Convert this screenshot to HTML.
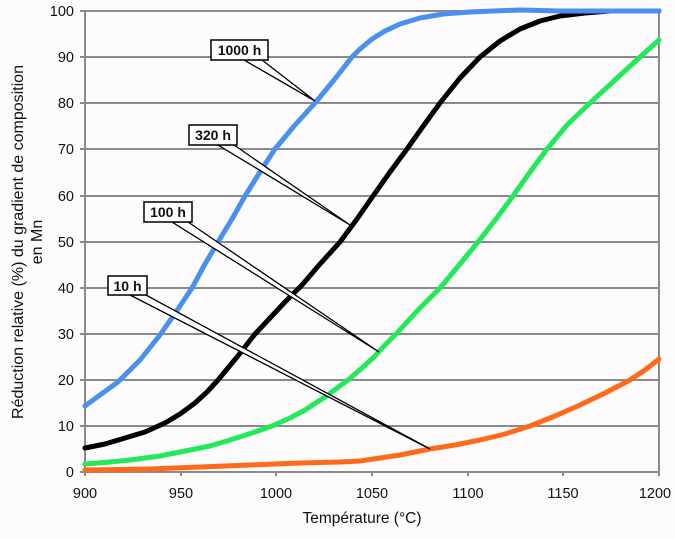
<!DOCTYPE html>
<html><head><meta charset="utf-8"><style>
html,body{margin:0;padding:0;background:#fdfbfc;}
svg{display:block;font-family:"Liberation Sans","DejaVu Sans",sans-serif;}
</style></head><body>
<svg width="675" height="539" viewBox="0 0 675 539" xmlns="http://www.w3.org/2000/svg">
<rect width="675" height="539" fill="#fdfbfc"/>
<g stroke="#8a8a8a" stroke-width="2">
<line x1="80" y1="11" x2="659" y2="11"/>
<line x1="80" y1="57" x2="659" y2="57"/>
<line x1="80" y1="103" x2="659" y2="103"/>
<line x1="80" y1="149" x2="659" y2="149"/>
<line x1="80" y1="196" x2="659" y2="196"/>
<line x1="80" y1="242" x2="659" y2="242"/>
<line x1="80" y1="288" x2="659" y2="288"/>
<line x1="80" y1="334" x2="659" y2="334"/>
<line x1="80" y1="380" x2="659" y2="380"/>
<line x1="80" y1="426" x2="659" y2="426"/>
<line x1="80" y1="472" x2="659" y2="472"/>
<line x1="85" y1="11" x2="85" y2="476"/>
<line x1="659" y1="11" x2="659" y2="476"/>
<line x1="181" y1="472" x2="181" y2="476"/>
<line x1="276" y1="472" x2="276" y2="476"/>
<line x1="372" y1="472" x2="372" y2="476"/>
<line x1="468" y1="472" x2="468" y2="476"/>
<line x1="563" y1="472" x2="563" y2="476"/>
</g>
<g font-size="14.5" fill="#111" text-anchor="end">
<text x="74" y="16">100</text><text x="74" y="62">90</text><text x="74" y="108">80</text>
<text x="74" y="154">70</text><text x="74" y="201">60</text><text x="74" y="247">50</text>
<text x="74" y="293">40</text><text x="74" y="339">30</text><text x="74" y="385">20</text>
<text x="74" y="431">10</text><text x="74" y="477">0</text>
</g>
<g font-size="14.5" fill="#111" text-anchor="middle">
<text x="85" y="498">900</text><text x="181" y="498">950</text><text x="276" y="498">1000</text>
<text x="372" y="498">1050</text><text x="468" y="498">1100</text><text x="563" y="498">1150</text>
<text x="655" y="498">1200</text>
<text x="362" y="523" font-size="15.5">Température (°C)</text>
</g>
<g font-size="16" fill="#111" text-anchor="middle">
<text transform="translate(23,242) rotate(-90)">Réduction relative (%) du gradient de composition</text>
<text transform="translate(42,242) rotate(-90)">en Mn</text>
</g>
<g fill="none" stroke-width="5" stroke-linejoin="round" stroke-linecap="round">
<path stroke="#ff6a1a" d="M85,470 L150,469 L200,467 L250,465 L300,463 L340,462 L360,461 L380,458 L400,455 L430,449 L455,445 L480,440 L505,434 L530,426 L555,416 L580,405 L605,393 L630,380 L645,370 L659,359"/>
<path stroke="#22e85a" d="M85,464 L110,462 L130,460 L160,456 L185,451 L210,446 L230,440 L252,433 L272,426 L290,418 L305,410 L325,397 L348,380 L362,368 L375,356 L385,345 L397,333 L418,310 L440,288 L460,264 L478,242 L496,219 L513,196 L530,172 L547,149 L568,124 L590,103 L615,80 L640,57 L659,40"/>
<path stroke="#000" d="M85,448 L105,444 L125,438 L145,432 L165,423 L180,414 L195,403 L207,392 L218,380 L237,357 L255,334 L270,318 L285,302 L302,285 L320,264 L340,242 L357,219 L373,196 L390,172 L407,149 L424,125 L440,103 L460,78 L480,57 L500,41 L520,29 L540,21 L560,16 L585,13 L610,11 L659,11"/>
<path stroke="#4a90ee" d="M85,406 L100,395 L118,382 L140,360 L160,335 L176,312 L192,288 L205,264 L218,242 L232,219 L245,196 L260,172 L275,149 L295,125 L315,103 L334,80 L352,57 L360,49 L372,39 L385,31 L400,24 L420,18 L443,14 L470,12 L493,11 L520,10 L560,11 L659,11"/>
</g>
<g fill="#fff" stroke="#000" stroke-width="1.3" stroke-linejoin="miter">
<polygon points="244,60 262,60 315,101"/>
<polygon points="218,145 234,145 350,225"/>
<polygon points="172,222 188,222 379,352"/>
<polygon points="130,295 146,295 430,449"/>
</g>
<g fill="#fff" stroke="#000" stroke-width="1.5">
<rect x="211" y="40" width="57" height="20"/>
<rect x="189" y="125" width="48" height="20"/>
<rect x="144" y="202" width="48" height="20"/>
<rect x="108" y="276" width="39" height="19"/>
</g>
<g font-size="14" fill="#111" text-anchor="middle" font-weight="bold">
<text x="239.5" y="55">1000 h</text>
<text x="213" y="140">320 h</text>
<text x="168" y="217">100 h</text>
<text x="127.5" y="291">10 h</text>
</g>
</svg>
</body></html>
